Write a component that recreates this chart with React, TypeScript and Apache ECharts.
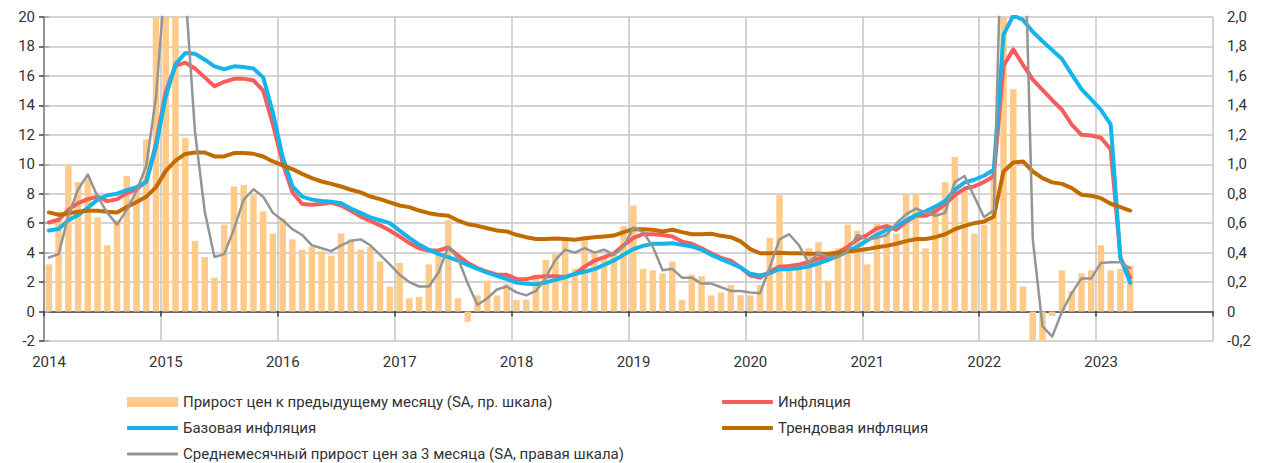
import React, { useEffect, useRef } from "react";
import * as echarts from "echarts";

const START_YEAR = 2014;
const MONTHS_TOTAL = 120;

const seriesNames = [
  "Прирост цен к предыдущему месяцу (SA, пр. шкала)",
  "Инфляция",
  "Базовая инфляция",
  "Трендовая инфляция",
  "Среднемесячный прирост цен за 3 месяца (SA, правая шкала)",
];

// monthly, Jan 2014 .. Apr 2023
const momSA = [
  0.32, 0.62, 0.99, 0.88, 0.9, 0.64, 0.45, 0.62, 0.92, 0.84, 1.17, 2.4,
  3.3, 2.1, 1.18, 0.48, 0.37, 0.23, 0.59, 0.85, 0.86, 0.79, 0.68, 0.53,
  0.63, 0.49, 0.42, 0.44, 0.41, 0.38, 0.53, 0.49, 0.42, 0.44, 0.34, 0.17,
  0.33, 0.09, 0.1, 0.32, 0.38, 0.62, 0.09, -0.07, 0.11, 0.21, 0.11, 0.19,
  0.08, 0.08, 0.25, 0.35, 0.39, 0.48, 0.29, 0.5, 0.4, 0.37, 0.4, 0.58,
  0.72, 0.29, 0.28, 0.26, 0.34, 0.08, 0.25, 0.24, 0.11, 0.13, 0.18, 0.11,
  0.11, 0.18, 0.5, 0.79, 0.28, 0.28, 0.43, 0.47, 0.21, 0.43, 0.59, 0.55,
  0.32, 0.6, 0.6, 0.53, 0.8, 0.8, 0.43, 0.7, 0.88, 1.05, 0.82, 0.53,
  0.59, 0.95, 7.6, 1.51, 0.17, -0.24, -0.24, -0.03, 0.28, 0.14, 0.26, 0.28,
  0.45, 0.28, 0.29, 0.31,
];

const inflation = [
  6.05, 6.23, 6.9, 7.36, 7.63, 7.8, 7.5, 7.63, 8.04, 8.3, 8.85, 11.4,
  14.95, 16.7, 16.9, 16.5, 15.9, 15.3, 15.6, 15.8, 15.8, 15.7, 15.0, 12.7,
  10.1, 8.1, 7.3, 7.25, 7.3, 7.4, 7.2, 6.85, 6.45, 6.15, 5.85, 5.5,
  5.1, 4.65, 4.3, 4.15, 4.15, 4.35, 3.8, 3.3, 2.95, 2.7, 2.5, 2.5,
  2.2, 2.2, 2.35, 2.4, 2.4, 2.35, 2.55, 3.05, 3.45, 3.7, 3.95, 4.5,
  5.0, 5.25, 5.25, 5.2, 5.1, 4.75, 4.6, 4.3, 3.95, 3.65, 3.45, 3.0,
  2.45, 2.3, 2.7, 3.05, 3.1, 3.2, 3.35, 3.6, 3.7, 4.0, 4.4, 4.9,
  5.2, 5.65, 5.8, 5.55, 6.1, 6.5, 6.5, 6.8, 7.3, 7.9, 8.35, 8.5,
  8.8, 9.2, 16.7, 17.8, 16.75, 15.75, 15.05, 14.35, 13.7, 12.7, 12.0, 11.95,
  11.8, 11.0, 3.65, 2.3,
];

const coreInflation = [
  5.5, 5.6, 6.2, 6.55, 7.05, 7.6, 7.9, 8.0, 8.25, 8.45, 8.8, 11.2,
  14.6, 16.8, 17.55, 17.5, 17.1, 16.65, 16.45, 16.65, 16.6, 16.5, 15.9, 13.5,
  10.5, 8.5, 7.8, 7.6, 7.5, 7.45, 7.35, 7.0, 6.7, 6.4, 6.2, 6.0,
  5.5, 5.0, 4.55, 4.2, 3.9, 3.7, 3.45, 3.17, 2.9, 2.65, 2.42, 2.2,
  1.97, 1.88, 1.86, 1.97, 2.15, 2.33, 2.56, 2.7, 2.88, 3.17, 3.47, 3.85,
  4.24, 4.46, 4.6, 4.6, 4.64, 4.53, 4.42, 4.19, 3.85, 3.56, 3.28, 3.0,
  2.56, 2.45, 2.6, 2.88, 2.88, 2.94, 3.06, 3.28, 3.51, 3.78, 4.08, 4.42,
  4.82, 5.21, 5.55, 5.78, 6.2, 6.55, 6.8, 7.13, 7.5, 8.27, 8.77, 8.95,
  9.22, 9.63, 18.8, 20.1, 19.8, 19.0, 18.35, 17.75, 17.15, 16.1, 15.1, 14.4,
  13.7, 12.7, 3.6, 1.95,
];

const trendInflation = [
  6.73, 6.57, 6.68, 6.77, 6.84, 6.84, 6.77, 6.72, 7.1, 7.44, 7.8, 8.45,
  9.55, 10.25, 10.7, 10.8, 10.8, 10.53, 10.53, 10.76, 10.76, 10.71, 10.53, 10.19,
  9.92, 9.67, 9.35, 9.06, 8.83, 8.67, 8.49, 8.27, 8.09, 7.81, 7.63, 7.41,
  7.2, 7.09, 6.86, 6.68, 6.57, 6.5, 6.18, 5.93, 5.82, 5.66, 5.5, 5.44,
  5.21, 5.05, 4.92, 4.92, 4.96, 4.92, 4.87, 4.98, 5.05, 5.1, 5.16, 5.39,
  5.59, 5.59, 5.55, 5.44, 5.55, 5.39, 5.25, 5.25, 5.28, 5.14, 5.05, 4.76,
  4.24, 3.96, 3.96, 4.0, 3.96, 3.96, 3.92, 3.92, 3.92, 4.0, 4.08, 4.14,
  4.24, 4.37, 4.46, 4.6, 4.78, 4.92, 4.92, 5.05, 5.25, 5.59, 5.82, 6.0,
  6.12, 6.46, 9.51, 10.12, 10.19, 9.51, 9.06, 8.77, 8.67, 8.38, 7.93, 7.86,
  7.7, 7.32, 7.09, 6.86,
];

const avg3mSA = [
  0.367, 0.39, 0.65, 0.83, 0.93, 0.78, 0.67, 0.59, 0.69, 0.82, 0.99, 1.46,
  2.3, 2.6, 2.19, 1.22, 0.68, 0.37, 0.39, 0.56, 0.76, 0.83, 0.78, 0.67,
  0.62, 0.56, 0.52, 0.45, 0.43, 0.41, 0.45, 0.48, 0.49, 0.45, 0.385, 0.32,
  0.25, 0.2, 0.17, 0.17, 0.265, 0.44, 0.36, 0.19, 0.045, 0.09, 0.15, 0.17,
  0.13, 0.11, 0.14, 0.23, 0.35, 0.42, 0.4, 0.43, 0.4, 0.42, 0.385, 0.44,
  0.57, 0.54, 0.44, 0.28, 0.29, 0.23, 0.23, 0.19, 0.19, 0.165, 0.14, 0.14,
  0.13, 0.125, 0.3, 0.49, 0.525, 0.45, 0.33, 0.4, 0.37, 0.37, 0.41, 0.52,
  0.49, 0.5, 0.52, 0.6, 0.66, 0.7, 0.67, 0.65, 0.67, 0.88, 0.92, 0.78,
  0.64, 0.69, 3.1, 3.35, 3.0, 0.49, -0.1, -0.17, 0.0, 0.125, 0.225, 0.225,
  0.33, 0.335, 0.335, 0.295,
];

const leftTicks = { min: -2, max: 20, interval: 2 };
const rightTicks = { min: -0.2, max: 2.0, interval: 0.2 };

const FONT = "Roboto, 'Noto Sans', sans-serif";
const COLORS = {
  bar: "#FFCB8A",
  red: "#FA5C5C",
  blue: "#13B5EA",
  brown: "#C26C00",
  gray: "#959595",
  grid: "#C6C6C6",
  axis: "#404040",
  text: "#333333",
};

const toXY = (arr: number[]) => arr.map((v, i) => [i + 0.5, v]);

const legendItem = (name: string, left: number, top: number, icon: string, itemHeight: number) => ({
  left,
  top,
  padding: 0,
  orient: "horizontal",
  itemWidth: 51,
  itemHeight,
  itemGap: 0,
  icon,
  textStyle: { fontSize: 15, fontFamily: FONT, color: COLORS.text, lineHeight: 16 },
  data: [{ name, icon }],
});

export default function App() {
  const ref = useRef<HTMLDivElement>(null);

  useEffect(() => {
    if (!ref.current) return;
    const chart = echarts.init(ref.current, undefined, { renderer: "svg" });

    const xCommon = {
      type: "value",
      min: 0,
      max: MONTHS_TOTAL,
      interval: 12,
    };

    const option: any = {
      animation: false,
      backgroundColor: "#ffffff",
      grid: { left: 44, top: 17, right: 53, bottom: 122, containLabel: false },
      legend: [
        legendItem(seriesNames[0], 127, 394, "rect", 10),
        legendItem(seriesNames[2], 127, 420, "roundRect", 4),
        legendItem(seriesNames[4], 127, 446, "roundRect", 3),
        legendItem(seriesNames[1], 722, 394, "roundRect", 4),
        legendItem(seriesNames[3], 722, 420, "roundRect", 4),
      ],
      xAxis: [
        {
          ...xCommon,
          position: "bottom",
          axisLine: { show: false, onZero: false },
          axisTick: { show: false },
          splitLine: { show: true, lineStyle: { color: COLORS.grid, width: 1.5 } },
          axisLabel: {
            margin: 13,
            fontSize: 15,
            fontFamily: FONT,
            color: COLORS.text,
            padding: [0, 0, 0, 10],
            formatter: (v: number) => (v < MONTHS_TOTAL ? String(START_YEAR + Math.round(v / 12)) : ""),
          },
        },
        {
          ...xCommon,
          position: "bottom",
          axisLine: { show: true, onZero: true, onZeroAxisIndex: 0, lineStyle: { color: COLORS.axis, width: 1.5 } },
          axisTick: { show: true, length: 5, lineStyle: { color: COLORS.axis, width: 1.5 } },
          splitLine: { show: false },
          axisLabel: { show: false },
        },
      ],
      yAxis: [
        {
          type: "value",
          position: "left",
          ...leftTicks,
          axisLine: { show: true, lineStyle: { color: COLORS.axis, width: 1.5 } },
          axisTick: { show: true, length: 5, lineStyle: { color: COLORS.axis, width: 1.5 } },
          splitLine: { show: true, lineStyle: { color: COLORS.grid, width: 1.5 } },
          axisLabel: { margin: 9, fontSize: 15, fontFamily: FONT, color: COLORS.text },
        },
        {
          type: "value",
          position: "right",
          ...rightTicks,
          axisLine: { show: true, lineStyle: { color: "#A6A6A6", width: 1.5 } },
          axisTick: { show: true, length: 5, lineStyle: { color: "#A6A6A6", width: 1.5 } },
          splitLine: { show: false },
          axisLabel: {
            margin: 14,
            fontSize: 15,
            fontFamily: FONT,
            color: COLORS.text,
            formatter: (v: number) => (Math.abs(v) < 1e-9 ? "0" : v.toFixed(1).replace(".", ",")),
          },
        },
      ],
      series: [
        {
          name: seriesNames[0],
          type: "bar",
          xAxisIndex: 0,
          yAxisIndex: 1,
          barWidth: 6.5,
          itemStyle: { color: COLORS.bar },
          data: toXY(momSA),
        },
        {
          name: seriesNames[1],
          type: "line",
          xAxisIndex: 0,
          yAxisIndex: 0,
          symbol: "none",
          showSymbol: false,
          lineStyle: { color: COLORS.red, width: 4, cap: "round", join: "round" },
          itemStyle: { color: COLORS.red },
          data: toXY(inflation),
        },
        {
          name: seriesNames[2],
          type: "line",
          xAxisIndex: 0,
          yAxisIndex: 0,
          symbol: "none",
          showSymbol: false,
          lineStyle: { color: COLORS.blue, width: 4, cap: "round", join: "round" },
          itemStyle: { color: COLORS.blue },
          data: toXY(coreInflation),
        },
        {
          name: seriesNames[3],
          type: "line",
          xAxisIndex: 0,
          yAxisIndex: 0,
          symbol: "none",
          showSymbol: false,
          lineStyle: { color: COLORS.brown, width: 4, cap: "round", join: "round" },
          itemStyle: { color: COLORS.brown },
          data: toXY(trendInflation),
        },
        {
          name: seriesNames[4],
          type: "line",
          xAxisIndex: 0,
          yAxisIndex: 1,
          symbol: "none",
          showSymbol: false,
          lineStyle: { color: COLORS.gray, width: 2.5, cap: "round", join: "round" },
          itemStyle: { color: COLORS.gray },
          data: toXY(avg3mSA),
        },
      ],
    };

    chart.setOption(option);
    return () => chart.dispose();
  }, []);

  return (
    <div
      ref={ref}
      style={{ position: "fixed", left: 0, top: 0, width: 1266, height: 463, background: "#fff" }}
    />
  );
}
